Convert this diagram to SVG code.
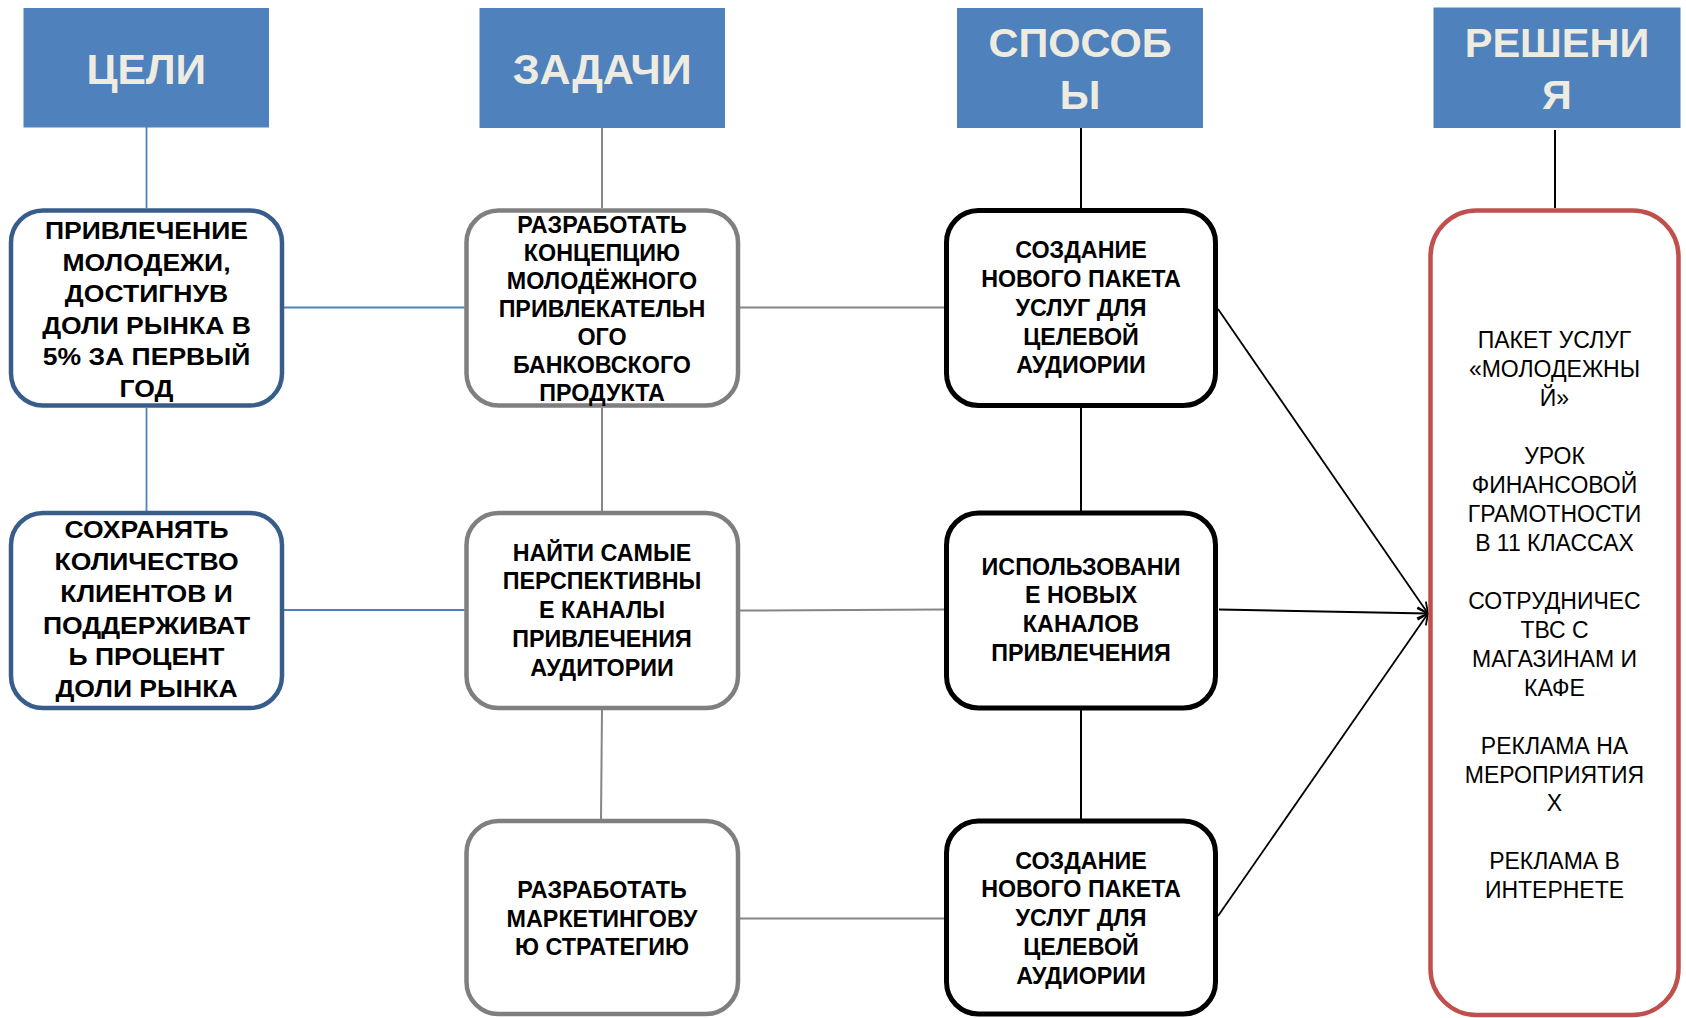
<svg xmlns="http://www.w3.org/2000/svg" width="1686" height="1018" viewBox="0 0 1686 1018">
<defs>
<style>
.hdr{fill:#4f81bd;stroke:none}
.htx{font-family:"Liberation Sans",Arial,sans-serif;font-weight:bold;fill:#eeece1;text-anchor:middle}
.goal{fill:#fff;stroke:#385d8a;stroke-width:4.5}
.task{fill:#fff;stroke:#7f7f7f;stroke-width:4.5}
.meth{fill:#fff;stroke:#000;stroke-width:5}
.sol{fill:#fff;stroke:#c0504d;stroke-width:4.5}
.bt{font-family:"Liberation Sans",Arial,sans-serif;font-weight:bold;font-size:23.3px;fill:#000;text-anchor:middle}
.gt{font-family:"Liberation Sans",Arial,sans-serif;font-weight:bold;font-size:23.5px;fill:#000;text-anchor:middle}
.st{font-family:"Liberation Sans",Arial,sans-serif;font-size:23px;fill:#000;text-anchor:middle}
.cb{stroke:#4f81bd;stroke-width:1.8;fill:none}
.cg{stroke:#868686;stroke-width:2;fill:none}
.ck{stroke:#000;stroke-width:2;fill:none}
.ca{stroke:#000;stroke-width:1.8;fill:none;marker-end:url(#arr)}
</style>
<marker id="arr" markerUnits="userSpaceOnUse" markerWidth="14" markerHeight="12" refX="11" refY="5" orient="auto" overflow="visible">
<path d="M0,0 L11,5 L0,10" fill="none" stroke="#000" stroke-width="1.8"/>
</marker>
</defs>
<rect width="1686" height="1018" fill="#fff"/>

<g id="connectors">
<line class="cb" x1="146.5" y1="127" x2="146.5" y2="208"/>
<line class="cb" x1="146.5" y1="408" x2="146.5" y2="511"/>
<line class="cb" x1="284" y1="307.5" x2="464.5" y2="307.5"/>
<line class="cb" x1="284" y1="610" x2="464.5" y2="610"/>
<line class="cg" x1="602" y1="128" x2="602" y2="208"/>
<line class="cg" x1="602" y1="408" x2="602" y2="511"/>
<line class="cg" x1="602" y1="710" x2="601" y2="819"/>
<line class="cg" x1="740" y1="307.5" x2="944" y2="307.5"/>
<line class="cg" x1="740" y1="610.5" x2="944" y2="609.5"/>
<line class="cg" x1="740" y1="918.5" x2="944" y2="918.5"/>
<line class="ck" x1="1081" y1="128" x2="1081" y2="208"/>
<line class="ck" x1="1081" y1="408" x2="1081" y2="511"/>
<line class="ck" x1="1081" y1="710" x2="1081" y2="819"/>
<line class="ck" x1="1555" y1="130" x2="1555" y2="208"/>
<line class="ca" x1="1218" y1="309" x2="1428" y2="613.5"/>
<line class="ca" x1="1219" y1="609.5" x2="1428" y2="613.5"/>
<line class="ca" x1="1218" y1="916" x2="1428" y2="613.5"/>
</g>

<g id="h-goals">
<rect class="hdr" x="23.5" y="8" width="245.5" height="119.5"/>
<text class="htx" x="146.3" y="83.5" font-size="42.5">ЦЕЛИ</text>
</g>
<g id="h-tasks">
<rect class="hdr" x="479.5" y="8" width="245.5" height="120"/>
<text class="htx" x="602.2" y="84" font-size="43">ЗАДАЧИ</text>
</g>
<g id="h-methods">
<rect class="hdr" x="957" y="8" width="246" height="120"/>
<text class="htx" x="1080" y="57" font-size="41.5">СПОСОБ</text>
<text class="htx" x="1080" y="108.5" font-size="41.5">Ы</text>
</g>
<g id="h-solutions">
<rect class="hdr" x="1433.5" y="7.5" width="247" height="120.5"/>
<text class="htx" x="1557" y="57.4" font-size="41.5">РЕШЕНИ</text>
<text class="htx" x="1557" y="108.5" font-size="41.5">Я</text>
</g>

<g id="goal1">
<rect class="goal" x="11" y="210.5" width="271" height="195" rx="32"/>
<g transform="translate(146.5 0) scale(1.13 1)">
<text class="gt" x="0" y="239.5">ПРИВЛЕЧЕНИЕ</text>
<text class="gt" x="0" y="271">МОЛОДЕЖИ,</text>
<text class="gt" x="0" y="302.5">ДОСТИГНУВ</text>
<text class="gt" x="0" y="334">ДОЛИ РЫНКА В</text>
<text class="gt" x="0" y="365.5">5% ЗА ПЕРВЫЙ</text>
<text class="gt" x="0" y="397">ГОД</text>
</g>
</g>
<g id="goal2">
<rect class="goal" x="11" y="513" width="271" height="195" rx="32"/>
<g transform="translate(146.5 0) scale(1.13 1)">
<text class="gt" x="0" y="538.5">СОХРАНЯТЬ</text>
<text class="gt" x="0" y="570.2">КОЛИЧЕСТВО</text>
<text class="gt" x="0" y="601.9">КЛИЕНТОВ И</text>
<text class="gt" x="0" y="633.6">ПОДДЕРЖИВАТ</text>
<text class="gt" x="0" y="665.3">Ь ПРОЦЕНТ</text>
<text class="gt" x="0" y="697">ДОЛИ РЫНКА</text>
</g>
</g>

<g id="task1">
<rect class="task" x="466.5" y="210.5" width="271.5" height="195" rx="32"/>
<text class="bt" x="602" y="233.2">РАЗРАБОТАТЬ</text>
<text class="bt" x="602" y="261.2">КОНЦЕПЦИЮ</text>
<text class="bt" x="602" y="289.1">МОЛОДЁЖНОГО</text>
<text class="bt" x="602" y="317.1">ПРИВЛЕКАТЕЛЬН</text>
<text class="bt" x="602" y="345">ОГО</text>
<text class="bt" x="602" y="373">БАНКОВСКОГО</text>
<text class="bt" x="602" y="400.9">ПРОДУКТА</text>
</g>
<g id="task2">
<rect class="task" x="466.5" y="513" width="271.5" height="195" rx="32"/>
<text class="bt" x="602" y="560.5">НАЙТИ САМЫЕ</text>
<text class="bt" x="602" y="589.4">ПЕРСПЕКТИВНЫ</text>
<text class="bt" x="602" y="618.3">Е КАНАЛЫ</text>
<text class="bt" x="602" y="647.2">ПРИВЛЕЧЕНИЯ</text>
<text class="bt" x="602" y="676.1">АУДИТОРИИ</text>
</g>
<g id="task3">
<rect class="task" x="466.5" y="821" width="271.5" height="193" rx="32"/>
<text class="bt" x="602" y="898">РАЗРАБОТАТЬ</text>
<text class="bt" x="602" y="926.5">МАРКЕТИНГОВУ</text>
<text class="bt" x="602" y="955">Ю СТРАТЕГИЮ</text>
</g>

<g id="method1">
<rect class="meth" x="946.5" y="210.5" width="269" height="195" rx="32"/>
<text class="bt" x="1081" y="258.2">СОЗДАНИЕ</text>
<text class="bt" x="1081" y="287">НОВОГО ПАКЕТА</text>
<text class="bt" x="1081" y="315.7">УСЛУГ ДЛЯ</text>
<text class="bt" x="1081" y="344.5">ЦЕЛЕВОЙ</text>
<text class="bt" x="1081" y="373.2">АУДИОРИИ</text>
</g>
<g id="method2">
<rect class="meth" x="946.5" y="513" width="269" height="195" rx="32"/>
<text class="bt" x="1081" y="574.5">ИСПОЛЬЗОВАНИ</text>
<text class="bt" x="1081" y="603.3">Е НОВЫХ</text>
<text class="bt" x="1081" y="632">КАНАЛОВ</text>
<text class="bt" x="1081" y="660.8">ПРИВЛЕЧЕНИЯ</text>
</g>
<g id="method3">
<rect class="meth" x="946.5" y="821" width="269" height="193" rx="32"/>
<text class="bt" x="1081" y="868.5">СОЗДАНИЕ</text>
<text class="bt" x="1081" y="897.2">НОВОГО ПАКЕТА</text>
<text class="bt" x="1081" y="926">УСЛУГ ДЛЯ</text>
<text class="bt" x="1081" y="954.7">ЦЕЛЕВОЙ</text>
<text class="bt" x="1081" y="983.5">АУДИОРИИ</text>
</g>

<g id="solutions">
<rect class="sol" x="1430.5" y="210.5" width="248" height="804.5" rx="46"/>
<text class="st" x="1554.5" y="348.2">ПАКЕТ УСЛУГ</text>
<text class="st" x="1554.5" y="377.1">«МОЛОДЕЖНЫ</text>
<text class="st" x="1554.5" y="406.1">Й»</text>
<text class="st" x="1554.5" y="464">УРОК</text>
<text class="st" x="1554.5" y="493">ФИНАНСОВОЙ</text>
<text class="st" x="1554.5" y="521.9">ГРАМОТНОСТИ</text>
<text class="st" x="1554.5" y="550.9">В 11 КЛАССАХ</text>
<text class="st" x="1554.5" y="608.8">СОТРУДНИЧЕС</text>
<text class="st" x="1554.5" y="637.7">ТВС С</text>
<text class="st" x="1554.5" y="666.7">МАГАЗИНАМ И</text>
<text class="st" x="1554.5" y="695.6">КАФЕ</text>
<text class="st" x="1554.5" y="753.5">РЕКЛАМА НА</text>
<text class="st" x="1554.5" y="782.5">МЕРОПРИЯТИЯ</text>
<text class="st" x="1554.5" y="811.4">Х</text>
<text class="st" x="1554.5" y="869.3">РЕКЛАМА В</text>
<text class="st" x="1554.5" y="898.2">ИНТЕРНЕТЕ</text>
</g>
</svg>
